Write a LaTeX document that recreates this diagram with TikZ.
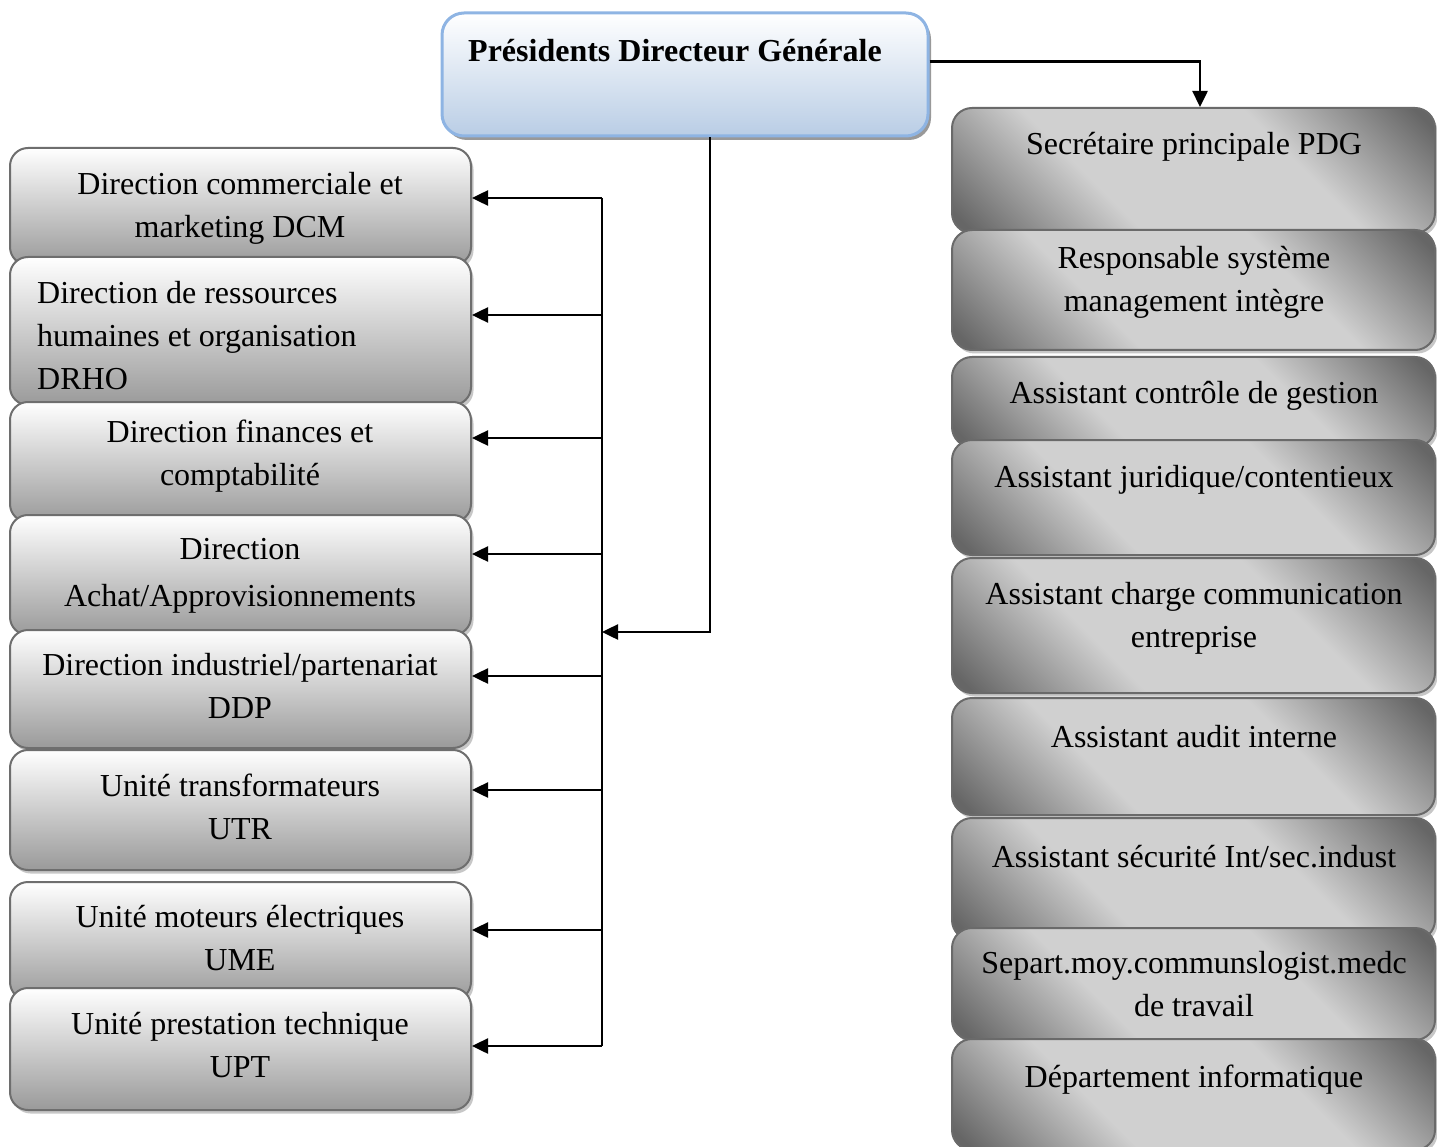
\documentclass[tikz,border=0pt]{standalone}
\usepackage{fontspec}
\setmainfont{Liberation Serif}
\usetikzlibrary{arrows.meta,shadows}

\definecolor{lboxline}{HTML}{6E6E6E}
\definecolor{lboxbot}{HTML}{9A9A9A}
\definecolor{rdark}{HTML}{666666}
\definecolor{rlight}{HTML}{D0D0D0}
\definecolor{rline}{HTML}{6A6A6A}
\definecolor{pdgline}{HTML}{8EB4E3}
\definecolor{pdgmid}{HTML}{D6E1EF}
\definecolor{pdgbot}{HTML}{B9CDE5}

% diagonal band shading of the right-hand boxes: dark corners, light middle
\pgfdeclarehorizontalshading{rbandshade}{100bp}{%
  color(0bp)=(rdark); color(17bp)=(rdark); color(37bp)=(rlight);
  color(63bp)=(rlight); color(83bp)=(rdark); color(100bp)=(rdark)}

\tikzset{
  pdgbox/.style={rectangle, rounded corners=22pt, draw=pdgline, line width=3pt,
    top color=white, middle color=pdgmid, bottom color=pdgbot,
    minimum width=486pt, minimum height=123pt, inner sep=0pt,
    drop shadow={shadow xshift=3pt, shadow yshift=-4pt, fill=black!40, opacity=1}},
  lbox/.style={rectangle, rounded corners=18pt, draw=lboxline, line width=2pt,
    top color=white, bottom color=lboxbot, minimum width=461pt, inner sep=0pt,
    drop shadow={shadow xshift=2.5pt, shadow yshift=-3.5pt, fill=black!22, opacity=1}},
  rbox/.style={rectangle, rounded corners=20pt, draw=rline, line width=2pt,
    shade, shading=rbandshade, shading angle=45, minimum width=483pt, inner sep=0pt,
    drop shadow={shadow xshift=2.5pt, shadow yshift=-3.5pt, fill=black!22, opacity=1}},
  txt/.style={font=\fontsize{32}{43}\selectfont, align=center, inner sep=0pt},
  link/.style={line width=2.5pt, draw=black},
  arrowlink/.style={link, -{Triangle[length=16pt,width=15pt]}}
}

\begin{document}
\begin{tikzpicture}[x=1pt, y=-1pt]
\useasboundingbox (0,0) rectangle (1437,1147);

% head of the organisation
\node[pdgbox] (pdg) at (685,74.5) {};
\node[txt, anchor=west, font=\fontsize{32}{43}\selectfont\bfseries] (pdgT) at (468,51)
  {Présidents Directeur Générale};

% directions and units (left column)
\node[lbox, minimum height=117pt] (dcm) at (240.5,206.5) {};
\node[txt] (dcmT) at (240,208) {Direction commerciale et\\marketing DCM};
\node[lbox, minimum height=148pt] (drho) at (240.5,331) {};
\node[txt, anchor=west, align=left] (drhoT) at (37,336)
  {Direction de ressources\\humaines et organisation\\DRHO};
\node[lbox, minimum height=120pt] (fin) at (240.5,462) {};
\node[txt] (finT) at (240,456) {Direction finances et\\comptabilité};
\node[lbox, minimum height=120pt] (achat) at (240.5,575) {};
\node[txt] (achatT) at (240,576) {Direction\\[4pt]Achat/Approvisionnements};
\node[lbox, minimum height=118pt] (ddp) at (240.5,689) {};
\node[txt] (ddpT) at (240,686) {Direction industriel/partenariat\\DDP};
\node[lbox, minimum height=120pt] (utr) at (240.5,810) {};
\node[txt] (utrT) at (240,807) {Unité transformateurs\\UTR};
\node[lbox, minimum height=118pt] (ume) at (240.5,941) {};
\node[txt] (umeT) at (240,938) {Unité moteurs électriques\\UME};
\node[lbox, minimum height=122pt] (upt) at (240.5,1049) {};
\node[txt] (uptT) at (240,1045) {Unité prestation technique\\UPT};

% staff attached to the head (right column)
\node[rbox, minimum height=125pt] (sec) at (1193.5,170.5) {};
\node[txt] (secT) at (1194,147) {Secrétaire principale PDG};
\node[rbox, minimum height=120pt] (rsm) at (1193.5,290) {};
\node[txt] (rsmT) at (1194,282) {Responsable système\\management intègre};
\node[rbox, minimum height=90pt] (ctrl) at (1193.5,402) {};
\node[txt] (ctrlT) at (1194,396) {Assistant contrôle de gestion};
\node[rbox, minimum height=115pt] (jur) at (1193.5,497.5) {};
\node[txt] (jurT) at (1194,480) {Assistant juridique/contentieux};
\node[rbox, minimum height=135pt] (comm) at (1193.5,625.5) {};
\node[txt] (commT) at (1194,618) {Assistant charge communication\\entreprise};
\node[rbox, minimum height=117pt] (audit) at (1193.5,756.5) {};
\node[txt] (auditT) at (1194,737) {Assistant audit interne};
\node[rbox, minimum height=122pt] (secu) at (1193.5,879) {};
\node[txt] (secuT) at (1194,857) {Assistant sécurité Int/sec.indust};
\node[rbox, minimum height=112pt] (separt) at (1193.5,984) {};
\node[txt] (separtT) at (1194,984) {Separt.moy.communslogist.medc\\de travail};
\node[rbox, minimum height=111pt] (info) at (1193.5,1094.5) {};
\node[txt] (infoT) at (1194,1080) {Département informatique};

% connectors
\draw[arrowlink] ([yshift=13pt]pdg.east) -| ([xshift=6.5pt]sec.north);

\coordinate (jn) at (602,632);
\draw[arrowlink] ([xshift=25pt]pdg.south) |- (jn);

\coordinate (b1) at (602,198);
\coordinate (b2) at (602,315);
\coordinate (b3) at (602,438);
\coordinate (b4) at (602,554);
\coordinate (b5) at (602,676);
\coordinate (b6) at (602,790);
\coordinate (b7) at (602,930);
\coordinate (b8) at (602,1046);
\draw[link] (b1) -- (b8);
\foreach \c/\n in {b1/dcm, b2/drho, b3/fin, b4/achat, b5/ddp, b6/utr, b7/ume, b8/upt}
  \draw[arrowlink] (\c) -- (\c -| \n.east);
\end{tikzpicture}
\end{document}
